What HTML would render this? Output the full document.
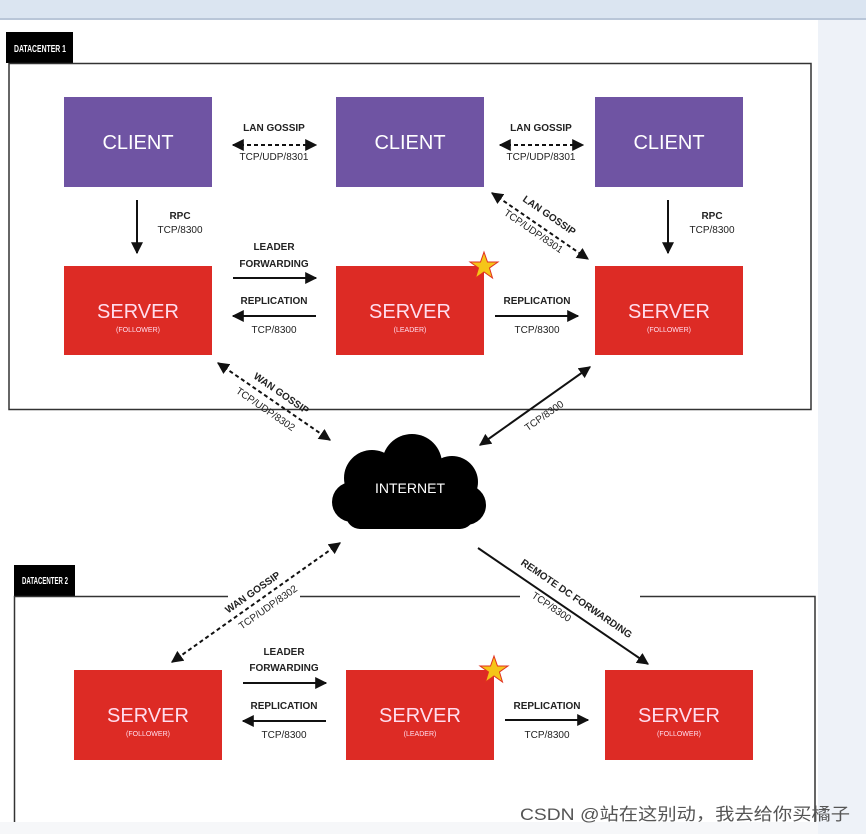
<!DOCTYPE html>
<html><head><meta charset="utf-8"><style>
body{margin:0;width:866px;height:834px;overflow:hidden;background:#fff;font-family:"Liberation Sans","Noto Sans CJK SC",sans-serif}
</style></head><body>
<svg width="866" height="834" viewBox="0 0 866 834" xmlns="http://www.w3.org/2000/svg" font-family="Liberation Sans, sans-serif">
<defs>
<marker id="a" viewBox="0 0 10 10" refX="9" refY="5" markerWidth="6" markerHeight="6" orient="auto-start-reverse"><path d="M0,0L10,5L0,10z" fill="#111"/></marker>
</defs>
<rect x="0" y="0" width="866" height="19" fill="#dbe5f1"/>
<rect x="0" y="18" width="866" height="2" fill="#b9c6d8"/>
<rect x="818" y="20" width="48" height="814" fill="#eef2f8"/>
<rect x="0" y="822" width="818" height="12" fill="#f6f7f9"/>
<!-- DC1 -->
<rect x="6" y="32" width="67" height="31" fill="#000"/>
<text x="14" y="52" font-size="10" fill="#fff" font-weight="bold" textLength="52" lengthAdjust="spacingAndGlyphs">DATACENTER 1</text>
<rect x="9" y="63.5" width="802" height="346" fill="none" stroke="#333" stroke-width="1.5"/>
<g fill="#6f54a3"><rect x="64" y="97" width="148" height="90"/><rect x="336" y="97" width="148" height="90"/><rect x="595" y="97" width="148" height="90"/></g>
<g fill="#fff" font-size="20" text-anchor="middle"><text x="138" y="149">CLIENT</text><text x="410" y="149">CLIENT</text><text x="669" y="149">CLIENT</text></g>
<g fill="#dd2b25"><rect x="64" y="266" width="148" height="89"/><rect x="336" y="266" width="148" height="89"/><rect x="595" y="266" width="148" height="89"/>
<rect x="74" y="670" width="148" height="90"/><rect x="346" y="670" width="148" height="90"/><rect x="605" y="670" width="148" height="90"/></g>
<g fill="#fde" text-anchor="middle"><g font-size="20"><text x="138" y="318">SERVER</text><text x="410" y="318">SERVER</text><text x="669" y="318">SERVER</text>
<text x="148" y="722">SERVER</text><text x="420" y="722">SERVER</text><text x="679" y="722">SERVER</text></g>
<g font-size="7"><text x="138" y="332">(FOLLOWER)</text><text x="410" y="332">(LEADER)</text><text x="669" y="332">(FOLLOWER)</text>
<text x="148" y="736">(FOLLOWER)</text><text x="420" y="736">(LEADER)</text><text x="679" y="736">(FOLLOWER)</text></g></g>
<g fill="#f5c518" stroke="#e03020" stroke-width="1"><polygon points="484,252 487.5,262 498,262 489.5,268 492.5,278 484,272 475.5,278 478.5,268 470,262 480.5,262"/>
<polygon points="494,656 497.5,666 508,666 499.5,672 502.5,682 494,676 485.5,682 488.5,672 480,666 490.5,666"/></g>
<!-- arrows -->
<g stroke="#111" stroke-width="2" fill="none">
<line x1="233" y1="145" x2="316" y2="145" stroke-dasharray="4,3" marker-start="url(#a)" marker-end="url(#a)"/>
<line x1="500" y1="145" x2="583" y2="145" stroke-dasharray="4,3" marker-start="url(#a)" marker-end="url(#a)"/>
<line x1="137" y1="200" x2="137" y2="253" marker-end="url(#a)"/>
<line x1="668" y1="200" x2="668" y2="253" marker-end="url(#a)"/>
<line x1="233" y1="278" x2="316" y2="278" marker-end="url(#a)"/>
<line x1="316" y1="316" x2="233" y2="316" marker-end="url(#a)"/>
<line x1="495" y1="316" x2="578" y2="316" marker-end="url(#a)"/>
<line x1="492" y1="193" x2="588" y2="259" stroke-dasharray="4,3" marker-start="url(#a)" marker-end="url(#a)"/>
<line x1="218" y1="363" x2="330" y2="440" stroke-dasharray="4,3" marker-start="url(#a)" marker-end="url(#a)"/>
<line x1="590" y1="367" x2="480" y2="445" marker-start="url(#a)" marker-end="url(#a)"/>
<line x1="340" y1="543" x2="172" y2="662" stroke-dasharray="4,3" marker-start="url(#a)" marker-end="url(#a)"/>
<line x1="478" y1="548" x2="648" y2="664" marker-end="url(#a)"/>
<line x1="243" y1="683" x2="326" y2="683" marker-end="url(#a)"/>
<line x1="326" y1="721" x2="243" y2="721" marker-end="url(#a)"/>
<line x1="505" y1="720" x2="588" y2="720" marker-end="url(#a)"/>
</g>
<g font-size="10" fill="#222" text-anchor="middle">
<text x="274" y="131" font-weight="bold">LAN GOSSIP</text><text x="274" y="160">TCP/UDP/8301</text>
<text x="541" y="131" font-weight="bold">LAN GOSSIP</text><text x="541" y="160">TCP/UDP/8301</text>
<text x="180" y="219" font-weight="bold">RPC</text><text x="180" y="233">TCP/8300</text>
<text x="712" y="219" font-weight="bold">RPC</text><text x="712" y="233">TCP/8300</text>
<text x="274" y="250" font-weight="bold">LEADER</text><text x="274" y="267" font-weight="bold">FORWARDING</text>
<text x="274" y="304" font-weight="bold">REPLICATION</text><text x="274" y="333">TCP/8300</text>
<text x="537" y="304" font-weight="bold">REPLICATION</text><text x="537" y="333">TCP/8300</text>
<text x="284" y="655" font-weight="bold">LEADER</text><text x="284" y="671" font-weight="bold">FORWARDING</text>
<text x="284" y="709" font-weight="bold">REPLICATION</text><text x="284" y="738">TCP/8300</text>
<text x="547" y="709" font-weight="bold">REPLICATION</text><text x="547" y="738">TCP/8300</text>
<g transform="translate(544,223) rotate(34.5)"><text y="-6" font-weight="bold">LAN GOSSIP</text><text x="-4" y="16">TCP/UDP/8301</text></g>
<g transform="translate(276,401) rotate(34.5)"><text y="-6" font-weight="bold">WAN GOSSIP</text><text x="-4" y="16">TCP/UDP/8302</text></g>
<g transform="translate(538,407) rotate(-35)"><text y="14">TCP/8300</text></g>
<g transform="translate(258,600) rotate(-35)"><text y="-6" font-weight="bold">WAN GOSSIP</text><text x="4" y="15">TCP/UDP/8302</text></g>
<g transform="translate(568,604) rotate(34.3)"><text x="4" y="-6" font-weight="bold">REMOTE DC FORWARDING</text><text x="-12" y="15">TCP/8300</text></g>
</g>
<!-- cloud -->
<g fill="#000"><circle cx="372" cy="478" r="28"/><circle cx="412" cy="464" r="30"/><circle cx="452" cy="482" r="26"/><circle cx="352" cy="502" r="20"/><circle cx="466" cy="505" r="20"/><rect x="346" y="488" width="128" height="41" rx="14"/></g>
<text x="410" y="493" font-size="14" fill="#fff" text-anchor="middle">INTERNET</text>
<!-- DC2 -->
<rect x="14" y="565" width="61" height="31" fill="#000"/>
<text x="22" y="584" font-size="10" fill="#fff" font-weight="bold" textLength="46" lengthAdjust="spacingAndGlyphs">DATACENTER 2</text>
<path d="M14.5,822 V596.5 H228 M300,596.5 H520 M640,596.5 H815 V822" fill="none" stroke="#333" stroke-width="1.5"/>
<text x="520" y="820" font-size="17" fill="#555" textLength="330" lengthAdjust="spacingAndGlyphs" font-family="Liberation Sans, Noto Sans CJK SC, sans-serif">CSDN @站在这别动，我去给你买橘子</text>
</svg>
</body></html>
